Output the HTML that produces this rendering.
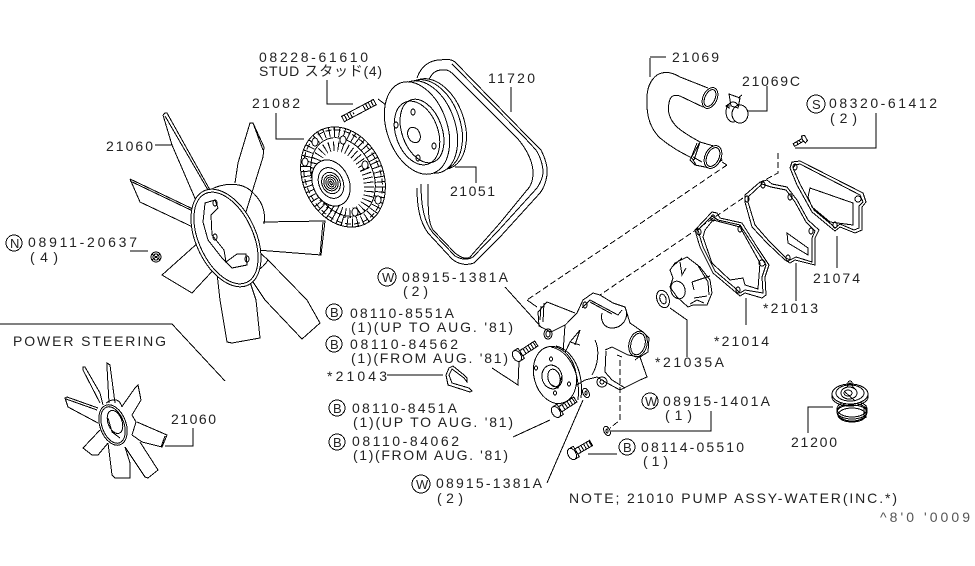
<!DOCTYPE html>
<html><head><meta charset="utf-8"><style>
html,body{margin:0;padding:0;background:#fff;width:975px;height:566px;overflow:hidden}
svg{display:block}
text{font-family:"Liberation Sans","Noto Sans CJK JP",sans-serif;font-size:14px;fill:#222;stroke:none}
.s{font-size:13px}
path,ellipse,circle,polyline,line{fill:none;stroke:#000;stroke-width:1}
.w{fill:#fff}
.d{stroke-dasharray:6 3}
</style></head><body>
<svg width="975" height="566" viewBox="0 0 975 566" shape-rendering="crispEdges">

<!-- large fan -->
<g>
<path class="w" d="M172 145L197 203M163 115L165 113L167 113L210 190M163 115L172 145"/>
<path d="M165 116L208 190"/>
<path class="w" d="M235 183L238 163L250 123L253 123L264 147L263 157L245 215"/>
<path d="M253 123L263 150"/>
<path class="w" d="M130 179L140 202L197 229M130 179L195 210"/>
<path d="M130 181L195 212"/>
<path class="w" d="M263 222L325 221L321 255L257 250"/>
<path d="M323 222L320 255"/>
<path class="w" d="M200 241L162 275L192 293L218 265"/>
<path class="w" d="M217 273L220 300L227 342L232 343L260 338L256 300L247 273"/>
<path class="w" d="M247 273L265 300L302 339L320 323L307 300L268 260"/>
<path d="M210 190C222 183 240 182 250 190C262 200 266 212 264 224M257 250L268 260C262 270 250 276 240 275"/>
<ellipse class="w" cx="226" cy="238" rx="30" ry="52" transform="rotate(-25 226 238)"/>
<ellipse cx="226" cy="238" rx="27" ry="49" transform="rotate(-25 226 238)"/>
<path d="M205 203L215 200L218 208L211 215L212 235L224 250L226 262L237 254L246 254L247 265L232 268L222 258L208 240L203 222Z"/>
<ellipse cx="215" cy="203" rx="2" ry="3"/>
<ellipse cx="215" cy="237" rx="2" ry="3"/>
<ellipse cx="247" cy="259" rx="2" ry="3"/>
</g>

<!-- clutch -->
<g transform="rotate(-25 343 177)">
<ellipse cx="343" cy="177" rx="40" ry="52"/>
<ellipse cx="343" cy="177" rx="35" ry="47" style="stroke-width:10;stroke-dasharray:1 4"/>
<ellipse cx="343" cy="177" rx="37" ry="49" style="stroke-dasharray:6 3"/>
<ellipse cx="343" cy="177" rx="30" ry="41"/>
<ellipse cx="341" cy="179" rx="25" ry="35" style="stroke-width:10;stroke-dasharray:1 3.5"/>
</g>
<ellipse class="w" cx="331" cy="183" rx="18" ry="24" transform="rotate(-25 331 183)"/>
<ellipse cx="331" cy="183" rx="12" ry="16" transform="rotate(-25 331 183)"/>
<ellipse cx="331" cy="183" rx="9" ry="11" transform="rotate(-25 331 183)"/>
<ellipse cx="331" cy="183" rx="7" ry="8" transform="rotate(-25 331 183)"/>
<ellipse cx="331" cy="183" rx="5" ry="6" transform="rotate(-25 331 183)"/>
<ellipse cx="331" cy="183" rx="3" ry="4" transform="rotate(-25 331 183)"/>
<ellipse cx="331" cy="183" rx="1" ry="2" transform="rotate(-25 331 183)"/>
<ellipse class="w" cx="315" cy="142" rx="3" ry="4"/><ellipse class="w" cx="343" cy="140" rx="3" ry="4"/>
<ellipse class="w" cx="365" cy="165" rx="3" ry="4"/><ellipse class="w" cx="378" cy="200" rx="3" ry="4"/>
<ellipse class="w" cx="355" cy="212" rx="3" ry="4"/><ellipse class="w" cx="305" cy="162" rx="3" ry="4"/>

<!-- stud -->
<g transform="translate(343,119) rotate(-28)">
<path d="M0 -3H36V3H0ZM3 -3V3M6 -3V3M9 -3V3M12 -1V1M24 -3V3M27 -3V3M30 -3V3M33 -3V3"/>
</g>
<path d="M378 99L403 118L408 114"/>

<!-- belt -->
<path d="M417 78C421 66 430 60 440 60C447 59 451 59 455 62L528 137L541 150C546 160 548 168 547 175C546 182 544 188 540 193L500 237L474 263C466 266 458 264 452 259L428 233C420 222 417 208 417 188"/>
<path d="M421 184C421 206 424 222 433 233L455 256C462 260 468 260 473 257L498 231L537 188C541 182 543 176 543 172C543 165 540 156 536 150L524 137L452 64"/>
<path d="M428 82C431 74 435 70 442 70C447 69 450 71 454 75L518 139C527 150 533 162 533 173C533 180 531 186 527 190L500 223L470 257C466 260 460 257 455 253L433 230C428 222 428 210 428 184"/>

<!-- pulley -->
<ellipse class="w" cx="434" cy="124" rx="30" ry="47" transform="rotate(-20 434 124)"/>
<ellipse class="w" cx="430" cy="125" rx="30" ry="47" transform="rotate(-20 430 125)"/>
<ellipse class="w" cx="425" cy="127" rx="30" ry="48" transform="rotate(-20 425 127)"/>
<ellipse class="w" cx="417" cy="128" rx="30" ry="48" transform="rotate(-20 417 128)"/>
<ellipse cx="417" cy="133" rx="21" ry="33" transform="rotate(-20 417 133)"/>
<ellipse cx="422" cy="131" rx="20" ry="33" transform="rotate(-20 422 131)"/>
<ellipse cx="414" cy="135" rx="6" ry="8" transform="rotate(-25 414 135)"/>
<ellipse cx="413" cy="112" rx="2" ry="3"/><ellipse cx="396" cy="125" rx="2" ry="3"/><ellipse cx="434" cy="146" rx="2" ry="3"/><ellipse cx="418" cy="158" rx="2" ry="3"/>

<!-- hose -->
<path d="M708 88L680 77C672 72 664 71 657 75C649 81 646 92 647 105C647 120 652 130 660 138C672 148 682 153 692 158"/>
<path d="M703 107L680 96C674 94 670 96 669 103C667 112 670 120 677 127C685 134 693 138 700 142"/>
<ellipse class="w" cx="710" cy="98" rx="7" ry="11" transform="rotate(25 710 98)"/>
<ellipse cx="710" cy="98" rx="5" ry="9" transform="rotate(25 710 98)"/>
<path class="w" d="M700 142L717 147L722 160L710 168L695 165L690 160Z"/>
<ellipse class="w" cx="713" cy="157" rx="8" ry="12" transform="rotate(25 713 157)"/>
<ellipse cx="713" cy="157" rx="6" ry="10" transform="rotate(25 713 157)"/>
<path d="M697 143L691 158M700 142L694 160M692 158L696 165M693 157L702 162"/>
<!-- clamp -->
<ellipse class="w" cx="733" cy="112" rx="7" ry="10"/>
<ellipse class="w" cx="740" cy="114" rx="8" ry="9"/>
<path d="M729 94L740 98L738 108L731 106ZM729 104L726 106L729 108ZM738 98L742 95"/>

<!-- dashed -->
<path class="d" d="M727 165L527 300"/>
<path d="M727 165L722 162M527 300L537 307"/>
<path class="d" d="M743 198L600 295"/>
<path class="d" d="M778 153L778 173L757 184"/>
<g transform="translate(806,138) rotate(150)">
<path d="M0 -3L3 -4L4 0L3 4L0 3ZM4 -1.5H14V1.5H4M7 -1.5V1.5M10 -1.5V1.5"/>
</g>

<!-- gasket 21074 -->
<path d="M792 162L800 161L863 193L866 202L862 207L862 230L855 233L840 227L835 231L830 227L812 212L797 185L790 168Z"/>
<path d="M795 165L800 164L860 195L863 202L859 206L859 228L854 230L840 224L835 228L832 225L814 210L800 184L793 168Z"/>
<path d="M810 188L853 203L853 225L830 222L812 207L808 197Z"/>
<ellipse cx="795" cy="167" rx="2" ry="3"/><ellipse cx="858" cy="199" rx="3" ry="3"/><ellipse cx="835" cy="225" rx="2" ry="3"/>

<!-- gasket 21013 -->
<path d="M745 195L760 182L767 180L772 184L787 187L797 200L808 220L819 230L815 238L815 265L795 260L790 263L785 260L767 243L752 227L745 202Z"/>
<path d="M748 197L762 184L771 187L786 190L795 202L806 222L815 231L812 238L812 262L796 257L790 260L786 258L769 241L755 225L748 202Z"/>
<path d="M787 233L808 248L808 255L788 243Z"/>
<ellipse cx="747" cy="199" rx="2" ry="3"/><ellipse cx="763" cy="185" rx="2" ry="3"/><ellipse cx="790" cy="197" rx="2" ry="3"/><ellipse cx="811" cy="231" rx="2" ry="3"/><ellipse cx="788" cy="258" rx="2" ry="3"/>

<!-- gasket 21014 -->
<path d="M695 230L712 212L717 213L720 218L742 223L757 247L769 265L765 277L766 295L762 298L745 293L740 296L733 290L713 273L700 247L697 237Z"/>
<path d="M698 230L712 216L718 220L740 225L755 248L766 265L762 277L763 293L745 290L740 293L735 288L715 271L703 247L700 237Z"/>
<path d="M705 230L713 220L740 227L760 263L758 289L745 285L743 278L730 280L712 263L703 237Z"/>
<ellipse cx="699" cy="232" rx="2" ry="3"/><ellipse cx="713" cy="218" rx="2" ry="3"/><ellipse cx="740" cy="229" rx="2" ry="3"/><ellipse cx="762" cy="263" rx="3" ry="3"/><ellipse cx="738" cy="290" rx="2" ry="3"/>

<!-- impeller -->
<path d="M670 270L675 263L687 257L700 267L710 280L712 293L707 305L693 305L688 307L677 297L670 287L673 278Z"/>
<path d="M673 266L682 258M697 264L708 282L709 295M690 304L697 300L704 303"/>
<ellipse cx="678" cy="290" rx="7" ry="9" transform="rotate(-20 678 290)"/>
<path d="M680 262L682 275L686 268M692 282L710 276M692 282L694 290M694 298L707 296"/>
<ellipse cx="663" cy="299" rx="6" ry="9" transform="rotate(-20 663 299)"/>
<ellipse cx="663" cy="299" rx="3" ry="5" transform="rotate(-20 663 299)"/>

<!-- pump -->
<path class="w" d="M565 325L577 313L583 300L593 293L600 295L613 303L625 307L630 323L643 332L649 338L648 352L640 357L647 377L640 380L620 390L607 383L597 377L585 380L560 395Z"/>
<path class="w" d="M575 313L547 302L538 312L539 326L551 332L565 325"/>
<path d="M541 306L540 320M544 303L543 322"/>
<path d="M582 308L590 300L618 315L622 310M590 302L612 314M602 313C600 322 605 328 612 328C622 328 630 318 625 307"/>
<ellipse cx="585" cy="305" rx="2" ry="3"/>
<ellipse class="w" cx="638" cy="344" rx="9" ry="13" transform="rotate(15 638 344)"/>
<ellipse cx="638" cy="344" rx="7" ry="11" transform="rotate(15 638 344)"/>
<path d="M605 350L612 347L628 355L640 357M606 351L605 372L612 380L625 388M575 345L580 330L570 342L564 355M570 342L580 345"/>
<path d="M595 340C600 350 598 365 592 375"/>
<ellipse class="w" cx="555" cy="375" rx="21" ry="29" transform="rotate(-15 555 375)"/>
<path d="M551 347C567 350 581 370 578 400M556 346C572 350 584 370 581 398"/>
<ellipse cx="552" cy="377" rx="10" ry="12" transform="rotate(-15 552 377)"/>
<ellipse cx="554" cy="378" rx="6" ry="9" transform="rotate(-15 554 378)"/>
<path d="M552 385L558 388L562 376"/>
<ellipse cx="551" cy="359" rx="1.5" ry="2"/><ellipse cx="536" cy="368" rx="1.5" ry="2"/><ellipse cx="569" cy="384" rx="1.5" ry="2"/><ellipse cx="555" cy="393" rx="1.5" ry="2"/>
<path class="d" d="M620 360L620 420L610 428"/>
<path d="M617 355L622 357M635 360L640 356"/>

<!-- bolts / washers -->
<g transform="translate(517,356) rotate(-33)">
<ellipse class="w" cx="0" cy="0" rx="4" ry="6"/>
<path d="M0 -6H5V6H0M5 -3H23V3H5M9 -3V3M12 -3V3M15 -3V3M18 -3V3M21 -3V3"/>
</g>
<g transform="translate(556,412) rotate(-33)">
<ellipse class="w" cx="0" cy="0" rx="4" ry="6"/>
<path d="M0 -6H5V6H0M5 -3H23V3H5M9 -3V3M12 -3V3M15 -3V3M18 -3V3M21 -3V3"/>
</g>
<g transform="translate(572,454) rotate(-30)">
<ellipse class="w" cx="0" cy="0" rx="4" ry="6"/>
<path d="M0 -6H5V6H0M5 -3H22V3H5M9 -3V3M12 -3V3M15 -3V3M18 -3V3M21 -3V3"/>
</g>
<ellipse cx="548" cy="334" rx="4" ry="5"/><ellipse cx="548" cy="334" rx="2" ry="3"/>
<ellipse cx="586" cy="393" rx="3" ry="5" transform="rotate(-25 586 393)"/><ellipse cx="586" cy="393" rx="1" ry="2"/>
<ellipse cx="602" cy="382" rx="5" ry="5"/><ellipse cx="602" cy="382" rx="2" ry="2"/>
<ellipse cx="607" cy="431" rx="3" ry="5" transform="rotate(-25 607 431)"/><ellipse cx="607" cy="431" rx="1" ry="2"/>
<ellipse cx="156" cy="257" rx="5" ry="5"/><ellipse cx="156" cy="257" rx="3" ry="3"/><path d="M152 254L160 260M160 254L152 260"/>
<path d="M467 378L464 375L453 366L449 368L446 375L448 385L470 392L472 391L469 388L452 383L449 375L452 369L464 378L467 382Z"/>

<!-- thermostat -->
<ellipse cx="852" cy="412" rx="15" ry="9"/>
<ellipse cx="852" cy="409" rx="15" ry="8"/><ellipse cx="852" cy="415" rx="14" ry="7"/><ellipse cx="852" cy="412" rx="15" ry="7"/>
<ellipse class="w" cx="850" cy="394" rx="18" ry="10"/>
<ellipse cx="850" cy="397" rx="18" ry="9"/>
<ellipse class="w" cx="850" cy="394" rx="18" ry="10"/>
<ellipse cx="850" cy="393" rx="14" ry="8"/><ellipse cx="849" cy="393" rx="8" ry="6"/><ellipse cx="848" cy="393" rx="4" ry="3"/>
<path d="M846 388L850 383L854 388M845 392L855 401M864 406L864 418M866 405V418"/>
<circle cx="850" cy="383" r="2"/>

<!-- small fan -->
<g>
<path d="M103 405L100 393L85 367L83 367L83 370L100 403"/>
<path d="M115 403L110 365L107 363L107 367L109 403"/>
<path d="M122 407L123 405L135 388L138 385L141 400L132 415"/>
<path d="M137 422L167 435L162 447L142 442L132 435M165 436L161 447"/>
<path d="M100 430L83 448L92 455L98 455L108 443"/>
<path d="M108 443L112 475L115 478L130 478L130 463L125 447"/>
<path d="M125 447L145 477L148 478L158 470L140 442"/>
<path d="M98 423L68 407L65 398L67 397L98 408M66 399L97 410"/>
<path d="M106 403C115 397 120 400 122 407M132 415L136 422L132 435"/>
<ellipse class="w" cx="113" cy="425" rx="13" ry="21" transform="rotate(-20 113 425)"/>
<ellipse cx="113" cy="425" rx="11" ry="19" transform="rotate(-20 113 425)"/>
<ellipse cx="115" cy="422" rx="7" ry="12" transform="rotate(-20 115 422)"/>
<path d="M108 418L112 432L120 438"/>
</g>

<!-- leaders -->
<path d="M327 80V104H353M276 113V139H304M155 145H172M130 251H148M511 87V112M455 167H476V183M650 58V77M650 57H666M748 111H767V86M795 148H876V113M837 236V268M796 263V301M746 298V325M670 308L687 320V357M387 375H443M492 368L518 385L519 362M513 437L550 420M547 483L583 400M505 287L542 328M611 431H711V411M588 454H617M833 407H808V433M165 446H193V428M0 324H172L225 381"/>

<!-- circles -->
<circle cx="816" cy="104" r="9"/><circle cx="14" cy="243" r="8"/><circle cx="387" cy="277" r="9"/>
<circle cx="334" cy="312" r="8"/><circle cx="334" cy="344" r="8"/><circle cx="337" cy="408" r="8"/><circle cx="337" cy="442" r="8"/>
<circle cx="421" cy="484" r="9"/><circle cx="650" cy="401" r="8"/><circle cx="627" cy="447" r="8"/>

<!-- labels -->
<text x="812" y="109" class="s">S</text><text x="10" y="248" class="s">N</text><text x="382" y="282" class="s">W</text>
<text x="330" y="317" class="s">B</text><text x="330" y="349" class="s">B</text><text x="333" y="413" class="s">B</text><text x="333" y="447" class="s">B</text>
<text x="416" y="489" class="s">W</text><text x="645" y="406" class="s">W</text><text x="623" y="452" class="s">B</text>

<text x="259" y="62" textLength="109">08228-61610</text>
<text x="259" y="76" textLength="123">STUD スタッド(4)</text>
<text x="252" y="108" textLength="48">21082</text>
<text x="488" y="83" textLength="47">11720</text>
<text x="106" y="151" textLength="47">21060</text>
<text x="450" y="196" textLength="45">21051</text>
<text x="672" y="62" textLength="47">21069</text>
<text x="742" y="86" textLength="58">21069C</text>
<text x="829" y="108" textLength="108">08320-61412</text>
<text x="830" y="123" textLength="27">(2)</text>
<text x="813" y="283" textLength="47">21074</text>
<text x="763" y="313" textLength="55">*21013</text>
<text x="714" y="346" textLength="55">*21014</text>
<text x="655" y="367" textLength="69">*21035A</text>
<text x="28" y="247" textLength="109">08911-20637</text>
<text x="30" y="262" textLength="28">(4)</text>
<text x="402" y="282" textLength="106">08915-1381A</text>
<text x="403" y="296" textLength="25">(2)</text>
<text x="350" y="318" textLength="104">08110-8551A</text>
<text x="351" y="332" textLength="162">(1)(UP TO AUG. '81)</text>
<text x="350" y="349" textLength="108">08110-84562</text>
<text x="351" y="363" textLength="157">(1)(FROM AUG. '81)</text>
<text x="327" y="381" textLength="60">*21043</text>
<text x="352" y="413" textLength="105">08110-8451A</text>
<text x="353" y="427" textLength="160">(1)(UP TO AUG. '81)</text>
<text x="352" y="446" textLength="107">08110-84062</text>
<text x="353" y="460" textLength="155">(1)(FROM AUG. '81)</text>
<text x="436" y="488" textLength="106">08915-1381A</text>
<text x="437" y="503" textLength="26">(2)</text>
<text x="663" y="406" textLength="107">08915-1401A</text>
<text x="665" y="420" textLength="27">(1)</text>
<text x="641" y="452" textLength="103">08114-05510</text>
<text x="643" y="466" textLength="25">(1)</text>
<text x="569" y="503" textLength="328">NOTE; 21010 PUMP ASSY-WATER(INC.*)</text>
<text x="880" y="522" textLength="90" style="fill:#555">^8'0 '0009</text>
<text x="791" y="447" textLength="46">21200</text>
<text x="13" y="346" textLength="153">POWER STEERING</text>
<text x="171" y="424" textLength="45">21060</text>
</svg>
</body></html>
